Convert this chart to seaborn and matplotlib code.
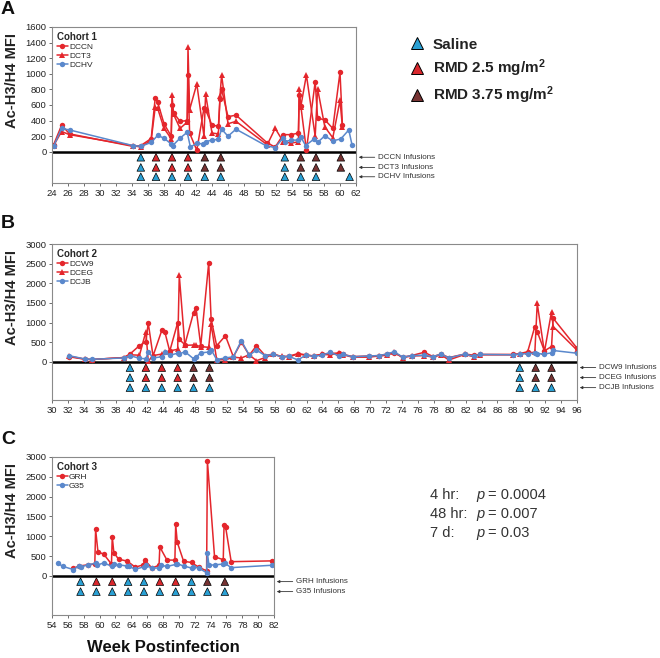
import numpy as np
import matplotlib
matplotlib.use("Agg")
import matplotlib.pyplot as plt
import seaborn as sns
from matplotlib.lines import Line2D
from matplotlib.transforms import blended_transform_factory

# ---------------- data ----------------
# Cohort 1
a_red_wk = [24.2, 25.2, 26.2, 34.1, 35.1, 36.4, 36.9, 37.2, 38.0, 38.9, 39.0, 39.2, 40.0,
            40.9, 41.0, 41.2, 42.1, 43.0, 43.2, 44.0, 44.8, 45.0, 45.2, 46.0, 47.0, 50.9,
            51.9, 52.9, 53.9, 54.8, 54.9, 55.1, 55.8, 56.9, 57.2, 58.1, 59.1, 60.0, 60.3]
dccn = [90, 340, 230, 70, 80, 170, 690, 640, 360, 200, 600, 500, 390, 400, 990, 240, 20, 560,
        540, 340, 330, 680, 800, 450, 470, 115, 60, 220, 220, 240, 730, 590, 20, 900, 430,
        410, 300, 1020, 350]
dct3 = [80, 260, 220, 80, 60, 150, 570, 560, 300, 170, 730, 480, 300, 380, 1340, 540, 870, 200,
        740, 240, 230, 720, 985, 360, 390, 90, 300, 130, 110, 130, 800, 580, 985, 200, 810,
        320, 180, 660, 320]
a_blue_wk = [24.2, 25.2, 26.2, 34.1, 35.1, 36.4, 37.2, 38.0, 38.9, 39.1, 40.0, 40.9, 41.3,
             42.1, 42.9, 43.2, 44.0, 44.8, 45.2, 46.0, 47.0, 50.8, 51.9, 52.9, 53.1, 53.9,
             54.8, 55.1, 55.7, 56.7, 57.2, 58.1, 59.1, 60.1, 61.1, 61.5]
dchv = [70, 300, 280, 80, 70, 120, 210, 175, 100, 80, 175, 250, 60, 110, 100, 130, 150, 160,
        290, 200, 290, 75, 55, 180, 130, 150, 150, 190, 80, 160, 120, 205, 140, 165, 280, 90]

a_inf_wk = [35.1, 37.0, 39.0, 41.0, 43.1, 45.1, 53.1, 55.1, 57.0, 60.1]
a_inf_hv_wk = [35.1, 37.0, 39.0, 41.0, 43.1, 45.1, 53.1, 55.1, 57.0, 61.2]
dccn_dose = ["S", "R25", "R25", "R25", "R375", "R375", "S", "R375", "R375", "R375"]
dct3_dose = ["S", "R25", "R25", "R25", "R375", "R375", "S", "R375", "R375", "R375"]
dchv_dose = ["S"] * 10

# Cohort 2
b_wk = [32.1, 34.1, 35.0, 39.0, 39.8, 41.0, 41.8, 42.1, 42.7, 43.8, 44.2, 44.8, 45.8, 46.0,
        46.7, 47.8, 48.1, 48.7, 49.7, 50.0, 50.7, 51.8, 52.8, 53.8, 54.8, 55.7, 56.8, 57.8,
        58.9, 59.8, 60.9, 61.9, 62.9, 63.9, 65.0, 66.1, 66.6, 67.8, 69.8, 71.1, 72.1, 73.0,
        74.1, 75.2, 76.8, 77.9, 78.9, 79.9, 81.9, 83.0, 83.8, 88.0, 88.8, 89.8, 90.7, 91.0,
        91.9, 92.8, 93.0, 96.0]
dcw9 = [130, 70, 60, 110, 200, 415, 515, 990, 150, 800, 750, 270, 1000, 570, 440, 1255, 1380,
        410, 2520, 1100, 410, 665, 130, 500, 170, 410, 160, 200, 130, 145, 210, 180, 150, 195,
        220, 220, 190, 135, 150, 160, 200, 230, 120, 160, 245, 135, 200, 110, 200, 170, 190,
        190, 210, 260, 900, 770, 280, 390, 1110, 350]
dceg = [150, 70, 60, 110, 180, 170, 770, 20, 160, 200, 240, 280, 320, 2200, 420, 430, 420, 390,
        370, 960, 60, 50, 120, 100, 180, 30, 110, 190, 140, 130, 200, 170, 150, 190, 180, 230,
        180, 120, 120, 150, 170, 240, 110, 150, 160, 120, 180, 50, 190, 130, 180, 180, 200,
        240, 240, 1490, 250, 1280, 900, 300]
dcjb = [160, 75, 65, 100, 160, 90, 80, 260, 100, 130, 250, 170, 220, 200, 260, 80, 120, 230,
        250, 310, 60, 100, 130, 540, 170, 300, 160, 190, 130, 140, 50, 170, 140, 170, 240, 150,
        190, 130, 150, 160, 200, 260, 120, 160, 170, 130, 200, 100, 200, 140, 190, 180, 200,
        210, 220, 210, 200, 230, 290, 220]

b_inf_wk = [39.8, 41.8, 43.8, 45.8, 47.8, 49.8, 88.8, 90.8, 92.8]
dcw9_dose = ["S", "R25", "R25", "R25", "R375", "R375", "S", "R375", "R375"]
dceg_dose = ["S", "R25", "R25", "R25", "R375", "R375", "S", "R375", "R375"]
dcjb_dose = ["S"] * 9

# Cohort 3
grh_wk = [56.7, 57.4, 58.5, 59.4, 59.5, 59.8, 60.5, 61.5, 61.6, 61.8, 62.4, 63.5, 64.5, 65.5,
          65.7, 66.6, 67.5, 67.6, 68.5, 69.5, 69.6, 69.8, 70.6, 71.6, 72.5, 73.5, 73.6, 74.5,
          75.6, 75.7, 75.9, 76.6, 81.8]
grh = [190, 250, 280, 300, 1175, 600, 555, 300, 990, 590, 420, 375, 220, 280, 400, 200, 270,
       730, 400, 400, 1300, 850, 370, 340, 220, 130, 2900, 485, 410, 1290, 1230, 360, 380]
g35_wk = [54.7, 55.4, 56.7, 57.4, 57.6, 58.5, 59.5, 59.7, 60.5, 61.6, 61.8, 62.4, 63.5, 63.7,
          64.5, 65.6, 65.8, 66.6, 67.5, 67.7, 68.5, 69.6, 69.8, 70.6, 71.6, 71.8, 72.5, 73.5,
          73.6, 73.8, 74.5, 75.6, 75.8, 76.6, 81.8]
g35 = [320, 240, 160, 260, 220, 280, 320, 270, 330, 240, 290, 280, 250, 240, 170, 230, 270,
       200, 200, 270, 240, 290, 310, 250, 200, 230, 200, 80, 580, 270, 280, 300, 320, 210, 270]

c_inf_wk = [57.6, 59.6, 61.6, 63.6, 65.6, 67.6, 69.6, 71.6, 73.6, 75.8]
grh_dose = ["S", "R25", "R25", "S", "S", "R25", "R25", "S", "R375", "R375"]
g35_dose = ["S"] * 10

dose_names = ["Saline", r"RMD 2.5 mg/m$^{\mathbf{2}}$", r"RMD 3.75 mg/m$^{\mathbf{2}}$"]
p_labels = ["4 hr:", "48 hr:", "7 d:"]
p_values = ["0.0004", "0.007", "0.03"]

# ---------------- style ----------------
RED = "#e4262c"
BLUE = "#5a88cc"
DOSE_COLORS = {"S": "#2aa0d4", "R25": "#d9282d", "R375": "#773333"}

sns.set_theme(style="white")
plt.rcParams["font.family"] = ["Liberation Sans", "DejaVu Sans"]
plt.rcParams["mathtext.fontset"] = "custom"
plt.rcParams["mathtext.rm"] = "Liberation Sans"
plt.rcParams["mathtext.bf"] = "Liberation Sans:bold"
plt.rcParams["mathtext.it"] = "Liberation Sans:italic"

W, H = 660, 658
fig = plt.figure(figsize=(W / 100, H / 100), dpi=100)


def px_rect(left, top, right, bottom):
    return [left / W, 1 - bottom / H, (right - left) / W, (bottom - top) / H]


def draw_panel(rect, xlim, ylim, ystep, cohort, series, infusions, rows):
    ax = fig.add_axes(rect)
    for name, wk, vals, color, marker in series:
        sns.lineplot(x=wk, y=vals, ax=ax, color=color, marker=marker, markersize=3.9,
                     markeredgewidth=0, linewidth=1.1, estimator=None, sort=False,
                     label=name)
    ax.axhline(0, color="black", lw=1.8, zorder=1)

    trans = blended_transform_factory(ax.transAxes, ax.transData)
    for (name, wk, doses), yrow in zip(infusions, rows):
        sns.scatterplot(x=wk, y=[yrow] * len(wk), hue=doses, palette=DOSE_COLORS,
                        marker="^", s=30, edgecolor="black", linewidth=0.5,
                        legend=False, ax=ax, zorder=3)
        ax.annotate(f"{name} Infusions", xy=(1, yrow), xycoords=trans,
                    xytext=(22, 0), textcoords="offset pixels", ha="left", va="center",
                    fontsize=5.8, color="#333333", annotation_clip=False,
                    arrowprops=dict(arrowstyle="-|>", color="#333333", lw=0.6,
                                    shrinkA=0, shrinkB=2, mutation_scale=4))

    ax.set_xlim(*xlim)
    ax.set_ylim(*ylim)
    ax.set_xticks(np.arange(xlim[0], xlim[1] + 1, 2))
    ax.set_yticks(np.arange(0, ylim[1] + 1, ystep))
    ax.tick_params(axis="both", direction="out", length=2.5, width=0.6, color="#555555",
                   labelsize=6.8, pad=1.5, left=True, bottom=True, labelcolor="#222222")
    for s in ax.spines.values():
        s.set_color("#8a8a8a")
        s.set_linewidth(0.8)
    ax.set_xlabel("")
    ax.set_ylabel("Ac-H3/H4 MFI", fontsize=10.5, fontweight="bold", color="#222222")
    ax.yaxis.set_label_coords(19 / W, 0.66,
                              transform=blended_transform_factory(fig.transFigure, ax.transAxes))
    ax.legend(title=cohort, loc="upper left", frameon=False, fontsize=6,
              title_fontproperties={"weight": "bold", "size": 7}, handlelength=1.3,
              handletextpad=0.15, labelspacing=0.15, borderaxespad=0.3, borderpad=0.3,
              alignment="left")
    return ax


draw_panel(px_rect(52, 27, 356, 183), (24, 62), (-400, 1600), 200, "Cohort 1",
           [("DCCN", a_red_wk, dccn, RED, "o"),
            ("DCT3", a_red_wk, dct3, RED, "^"),
            ("DCHV", a_blue_wk, dchv, BLUE, "o")],
           [("DCCN", a_inf_wk, dccn_dose),
            ("DCT3", a_inf_wk, dct3_dose),
            ("DCHV", a_inf_hv_wk, dchv_dose)],
           [-70, -200, -320])

draw_panel(px_rect(52, 244, 577, 400), (30, 96), (-970, 3000), 500, "Cohort 2",
           [("DCW9", b_wk, dcw9, RED, "o"),
            ("DCEG", b_wk, dceg, RED, "^"),
            ("DCJB", b_wk, dcjb, BLUE, "o")],
           [("DCW9", b_inf_wk, dcw9_dose),
            ("DCEG", b_inf_wk, dceg_dose),
            ("DCJB", b_inf_wk, dcjb_dose)],
           [-145, -400, -655])

draw_panel(px_rect(52, 457, 274, 615), (54, 82), (-985, 3000), 500, "Cohort 3",
           [("GRH", grh_wk, grh, RED, "o"),
            ("G35", g35_wk, g35, BLUE, "o")],
           [("GRH", c_inf_wk, grh_dose),
            ("G35", c_inf_wk, g35_dose)],
           [-143, -395])

# panel letters
for letter, ypx in zip(["A", "B", "C"], [10, 223, 440]):
    fig.text(1 / W, 1 - ypx / H, letter, fontsize=14, fontweight="bold", va="center",
             ha="left", color="#111111")

fig.text(163 / W, 1 - 647 / H, "Week Postinfection", fontsize=12, fontweight="bold",
         ha="center", va="center", color="#111111")

# treatment legend
handles = [Line2D([], [], linestyle="none", marker="^", markersize=9,
                  markerfacecolor=DOSE_COLORS[k], markeredgecolor="black",
                  markeredgewidth=0.7) for k in ["S", "R25", "R375"]]
fig.legend(handles, dose_names, loc="upper left", bbox_to_anchor=(402 / W, 1 - 30 / H),
           frameon=False, prop={"weight": "bold", "size": 11}, handlelength=1.0,
           handletextpad=0.5, labelspacing=0.38, borderpad=0, labelcolor="#222222")

# p-values
for lbl, val, ypx in zip(p_labels, p_values, [495, 514, 533]):
    y = 1 - ypx / H
    fig.text(430 / W, y, lbl, fontsize=10.5, va="center", ha="left", color="#333333")
    fig.text(476 / W, y, "p", fontsize=10.5, style="italic", va="center", ha="left",
             color="#333333")
    fig.text(488 / W, y, "= " + val, fontsize=10.5, va="center", ha="left", color="#333333")

fig.savefig("out.png", dpi=100)
